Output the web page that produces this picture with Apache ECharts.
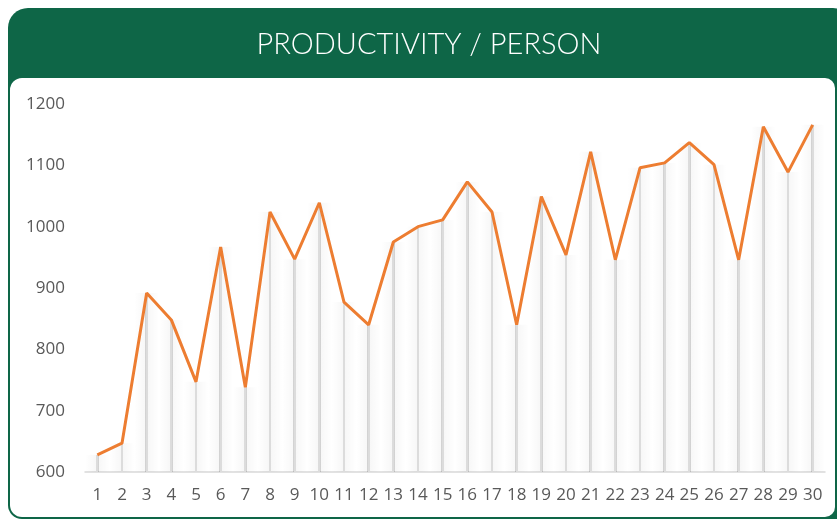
<!DOCTYPE html>
<html><head><meta charset="utf-8">
<script src="https://cdn.jsdelivr.net/npm/echarts@6/dist/echarts.min.js"></script>
<style>html,body{margin:0;padding:0;background:#fff}#c{width:837px;height:520px}</style>
</head><body><div id="c"></div>
<script>
const title = 'PRODUCTIVITY / PERSON';
const categories = ['1','2','3','4','5','6','7','8','9','10','11','12','13','14','15','16','17','18','19','20','21','22','23','24','25','26','27','28','29','30'];
const productivity = [628,647,892,848,747,967,738,1024,947,1039,877,840,975,1000,1011,1073,1024,840,1049,954,1122,946,1096,1104,1137,1101,946,1163,1089,1166];
const yTicks = {min:600, max:1200, interval:100};

const chart = echarts.init(document.getElementById('c'));
chart.setOption({
  animation:false,
  backgroundColor:'#ffffff',
  graphic:[
    {type:'rect', z:-10, silent:true, shape:{x:8,y:8,width:845,height:511,r:[20,20,0,14]}, style:{fill:'#0e6647'}},
    {type:'rect', z:-9, silent:true, shape:{x:10,y:78,width:825,height:439,r:[12,10,10,12]}, style:{fill:'#ffffff'}},
    {type:'text', z:5, x:429, y:30, style:{text:title, textAlign:'center', fill:'#ffffff', font:'300 29px Lato, "Open Sans", sans-serif'}}
  ],
  grid:{left:85, right:12, top:104, bottom:48},
  xAxis:{
    type:'category', data:categories, boundaryGap:true,
    axisLine:{lineStyle:{color:'#d9d9d9', width:1.5}},
    axisTick:{show:false},
    axisLabel:{interval:0, hideOverlap:false, color:'#595959', fontSize:17, fontFamily:'"Open Sans", sans-serif', margin:15}
  },
  yAxis:{
    type:'value', min:yTicks.min, max:yTicks.max, interval:yTicks.interval,
    axisLine:{show:false}, axisTick:{show:false}, splitLine:{show:false},
    axisLabel:{color:'#595959', fontSize:17, fontFamily:'"Open Sans", sans-serif', margin:20,
      formatter:function(v){return String(v);}}
  },
  series:[
    {type:'bar', data:productivity, barWidth:'100%', barGap:'-100%', silent:true, z:1,
     itemStyle:{color:{type:'linear', x:0,y:0,x2:1,y2:0, colorStops:[
       {offset:0,color:'rgba(0,0,0,0.0)'},
       {offset:0.45,color:'rgba(0,0,0,0.03)'},
       {offset:0.465,color:'#dcdcdc'},
       {offset:0.535,color:'#dcdcdc'},
       {offset:0.55,color:'rgba(0,0,0,0.03)'},
       {offset:1,color:'rgba(0,0,0,0.0)'}]}}},
    {type:'line', data:productivity, symbol:'none', z:3,
     lineStyle:{color:'#ed7d31', width:3}}
  ]
});
</script></body></html>
